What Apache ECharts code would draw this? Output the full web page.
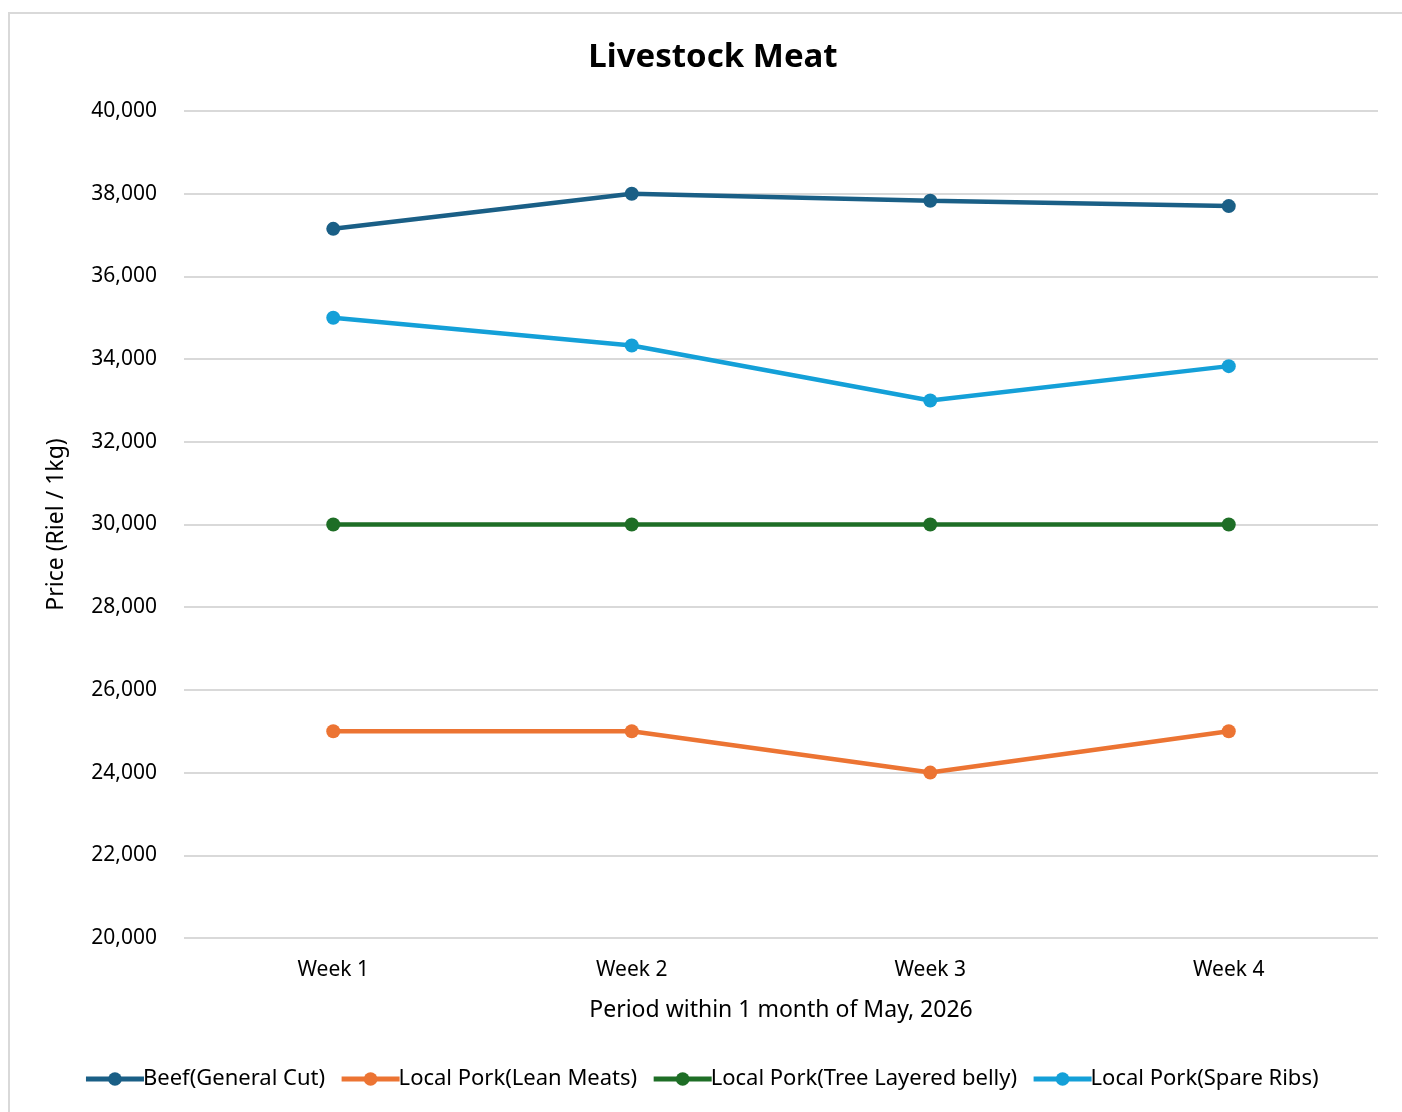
<!DOCTYPE html>
<html>
<head>
<meta charset="utf-8">
<script src="https://cdn.jsdelivr.net/npm/echarts@6/dist/echarts.min.js"></script>
<style>
  html, body { margin: 0; padding: 0; background: #fff; }
  .frame { position: absolute; left: 8px; top: 12px; width: 1400px; height: 1110px; border: 2px solid #d9d9d9; box-sizing: border-box; }
  #chart { position: absolute; left: 0; top: 0; width: 1402px; height: 1112px; }
</style>
</head>
<body>
<div class="frame"></div>
<div id="chart"></div>
<script>
  // data
  const weeks = ['Week 1', 'Week 2', 'Week 3', 'Week 4'];
  const beef = [37150, 38000, 37830, 37700];
  const leanPork = [25000, 25000, 24000, 25000];
  const bellyPork = [30000, 30000, 30000, 30000];
  const spareRibs = [35000, 34330, 33000, 33830];
  const seriesNames = ['Beef(General Cut)', 'Local Pork(Lean Meats)', 'Local Pork(Tree Layered belly)', 'Local Pork(Spare Ribs)'];
  const colors = ['#1a5f86', '#ec7433', '#1e6e26', '#14a0d8'];

  const font = '"Noto Sans", sans-serif';
  const myChart = echarts.init(document.getElementById('chart'), null, { renderer: 'canvas' });

  const mkSeries = (name, data, color) => ({
    name: name,
    type: 'line',
    data: data,
    symbol: 'circle',
    symbolSize: 14,
    itemStyle: { color: color },
    lineStyle: { width: 4.5, color: color },
  });

  const option = {
    animation: false,
    title: {
      text: 'Livestock Meat',
      left: 708,
      textAlign: 'center',
      top: 36,
      textStyle: { fontFamily: font, fontSize: 33, fontWeight: 'bold', color: '#000' },
    },
    grid: { left: 184, right: 24, top: 111, bottom: 174 },
    xAxis: {
      type: 'category',
      data: weeks,
      boundaryGap: true,
      name: 'Period within 1 month of May, 2026',
      nameLocation: 'middle',
      nameGap: 61,
      nameTextStyle: { fontFamily: font, fontSize: 23, color: '#000' },
      axisLine: { show: false },
      axisTick: { show: false },
      axisLabel: { fontFamily: font, fontSize: 21, color: '#000', margin: 22 },
    },
    yAxis: {
      type: 'value',
      min: 20000,
      max: 40000,
      interval: 2000,
      name: 'Price (Riel / 1kg)',
      nameLocation: 'middle',
      nameGap: 116,
      nameTextStyle: { fontFamily: font, fontSize: 23, color: '#000' },
      axisLine: { show: false },
      axisTick: { show: false },
      axisLabel: {
        fontFamily: font, fontSize: 21, color: '#000', margin: 27,
        formatter: (v) => v.toLocaleString('en-US'),
      },
      splitLine: { lineStyle: { color: '#d9d9d9', width: 2 } },
    },
    legend: {
      bottom: 17,
      left: 'center',
      itemWidth: 58,
      itemHeight: 17,
      itemGap: 14,
      lineStyle: { width: 5 },
      textStyle: { fontFamily: font, fontSize: 22, color: '#000', padding: [0, 0, 0, -6] },
      data: seriesNames,
    },
    series: [
      mkSeries(seriesNames[0], beef, colors[0]),
      mkSeries(seriesNames[1], leanPork, colors[1]),
      mkSeries(seriesNames[2], bellyPork, colors[2]),
      mkSeries(seriesNames[3], spareRibs, colors[3]),
    ],
  };
  myChart.setOption(option);
</script>
</body>
</html>
